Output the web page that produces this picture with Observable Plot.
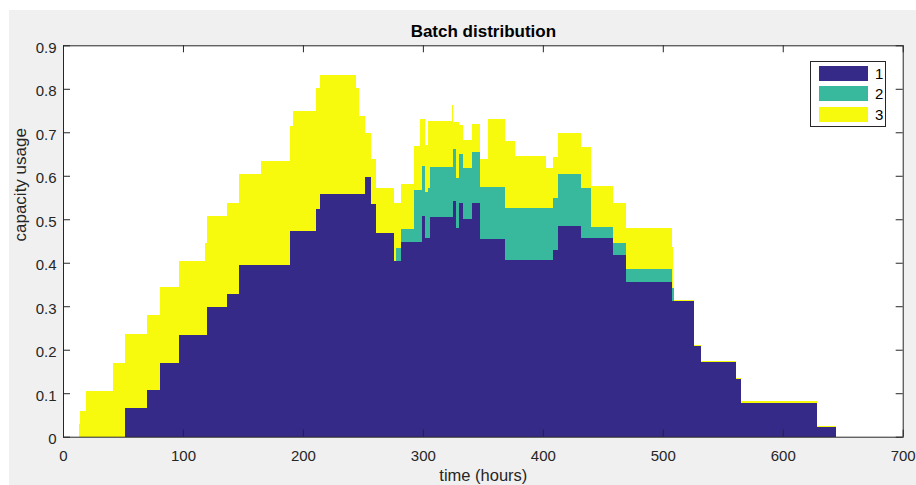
<!DOCTYPE html>
<html>
<head>
<meta charset="utf-8">
<script src="https://cdn.jsdelivr.net/npm/d3@7"></script>
<script src="https://cdn.jsdelivr.net/npm/@observablehq/plot@0.6"></script>
<style>
  html, body { margin: 0; padding: 0; background: #ffffff; width: 916px; height: 485px; overflow: hidden;
    font-family: "Liberation Sans", Arial, Helvetica, sans-serif; }
  #wrap { position: absolute; left: 9px; top: 10px; width: 907px; height: 475px; background: #f0f0f0; }
  #wrap svg { display: block; }
  #legend { position: absolute; left: 810px; top: 61px; width: 76px; height: 66px; background: #fff;
    border: 1px solid #262626; box-sizing: border-box; }
  .lg-row { position: absolute; left: 8px; height: 15px; width: 70px; }
  .lg-sw { position: absolute; left: 0; top: 0; width: 49px; height: 15px; }
  .lg-tx { position: absolute; left: 56px; top: -1px; font-size: 15px; line-height: 17px; color: #000; }
</style>
</head>
<body>
<div id="wrap"></div>
<div id="legend"></div>
<script>
// ---- data ----
const seriesNames = ["1", "2", "3"];
const seriesColors = ["#352a87", "#38b99e", "#f8fa0d"];

// start time of each step (hours); last entry closes the chart
const times = [13, 14.5, 19.5, 41.5, 52, 70, 81, 97, 118.5, 120.3, 137, 147, 165, 189, 192, 211, 214.5, 244.5, 247, 252,
  257, 261.3, 276.3, 277.5, 281.5, 292.5, 297.8, 299.2, 301.5, 304.5, 306, 324, 325.3, 327.8, 329.8, 333.4, 341.3, 348, 354.2, 368.3,
  376.6, 402.7, 408.5, 413, 431.6, 440.5, 458.5, 469.6, 507.4, 508.3, 509.5, 526, 532, 561, 565, 628.3, 644.4];

// batch 1 (bottom)
const batch1 = [0, 0, 0, 0, 0.065, 0.107, 0.170, 0.234, 0.234, 0.298, 0.328, 0.394, 0.394, 0.474, 0.474, 0.523, 0.557, 0.557, 0.557, 0.597,
  0.536, 0.469, 0.405, 0.405, 0.447, 0.447, 0.447, 0.507, 0.456, 0.456, 0.506, 0.506, 0.542, 0.479, 0.538, 0.500, 0.538, 0.455, 0.455, 0.406,
  0.406, 0.406, 0.430, 0.485, 0.456, 0.456, 0.417, 0.355, 0.311, 0.311, 0.311, 0.209, 0.172, 0.133, 0.078, 0.022, 0];

// batch 2 (middle)
const batch2 = [0, 0, 0, 0, 0, 0, 0, 0, 0, 0, 0, 0, 0, 0, 0, 0, 0, 0, 0, 0,
  0, 0, 0, 0.028, 0.030, 0.120, 0.120, 0.115, 0.106, 0.115, 0.115, 0.115, 0.119, 0.115, 0.111, 0.119, 0.117, 0.119, 0.119, 0.119,
  0.119, 0.119, 0.118, 0.120, 0.115, 0.027, 0.028, 0.031, 0.032, 0.032, 0, 0, 0, 0, 0, 0, 0];

// batch 3 (top)
const batch3 = [0.029, 0.060, 0.106, 0.170, 0.171, 0.173, 0.175, 0.171, 0.211, 0.210, 0.210, 0.210, 0.240, 0.241, 0.275, 0.278, 0.274, 0.244, 0.180, 0.102,
  0.102, 0.102, 0.133, 0.105, 0.104, 0.101, 0.163, 0.108, 0.108, 0.156, 0.106, 0.141, 0.062, 0.129, 0.068, 0.063, 0.065, 0.064, 0.156, 0.155,
  0.121, 0.093, 0.095, 0.094, 0.094, 0.094, 0.093, 0.094, 0.093, 0, 0.003, 0.003, 0.003, 0.003, 0.003, 0.003, 0];

const xTicks = [0, 100, 200, 300, 400, 500, 600, 700];
const yTicks = [0, 0.1, 0.2, 0.3, 0.4, 0.5, 0.6, 0.7, 0.8, 0.9];
const yTickLabels = ["0", "0.1", "0.2", "0.3", "0.4", "0.5", "0.6", "0.7", "0.8", "0.9"];
const titleText = "Batch distribution";
const xLabel = "time (hours)";
const yLabel = "capacity usage";

// ---- build long table ----
const rows = [];
[batch1, batch2, batch3].forEach((arr, k) =>
  arr.forEach((v, i) => rows.push({t: times[i], v, series: seriesNames[k]})));

const W = 907, H = 475, mL = 54, mR = 13.3, mT = 35.3, mB = 48.3;
const iw = W - mL - mR, ih = H - mT - mB;
const axisColor = "#262626";
const font = "'Liberation Sans', Arial, Helvetica, sans-serif";

const chart = Plot.plot({
  width: W, height: H,
  marginLeft: mL, marginRight: mR, marginTop: mT, marginBottom: mB,
  style: {background: "transparent", fontFamily: font, color: axisColor, overflow: "visible"},
  x: {domain: [0, 700]},
  y: {domain: [0, 0.9]},
  color: {domain: seriesNames, range: seriesColors},
  marks: [
    Plot.frame({fill: "white", stroke: null}),
    Plot.areaY(rows, {x: "t", y: "v", fill: "series", curve: "step-after", shapeRendering: "crispEdges"}),
    Plot.frame({stroke: axisColor, strokeWidth: 1}),
    Plot.tickX(xTicks, {x: d => d, insetTop: ih - 7, stroke: axisColor}),
    Plot.tickX(xTicks, {x: d => d, insetBottom: ih - 7, stroke: axisColor}),
    Plot.tickY(yTicks, {y: d => d, insetLeft: iw - 7, stroke: axisColor}),
    Plot.tickY(yTicks, {y: d => d, insetRight: iw - 7, stroke: axisColor}),
    Plot.axisX({ticks: xTicks, tickSize: 0, tickPadding: 13, fontSize: 15, label: null,
      tickFormat: d => String(d), fill: axisColor}),
    Plot.axisY({ticks: yTicks, tickSize: 0, tickPadding: 7, fontSize: 15, label: null, dy: 2,
      tickFormat: d => { const i = yTicks.indexOf(d); return i >= 0 ? yTickLabels[i] : String(d); }, fill: axisColor}),
    Plot.text([titleText], {text: d => d, frameAnchor: "top", lineAnchor: "top", dy: -21.3,
      fontSize: 17, fontWeight: "bold", fill: "#000"}),
    Plot.text([xLabel], {text: d => d, frameAnchor: "bottom", lineAnchor: "top", dy: 32,
      fontSize: 16.5, fill: axisColor}),
    Plot.text([yLabel], {text: d => d, frameAnchor: "left", rotate: -90, dx: -43,
      fontSize: 17, fill: axisColor})
  ]
});
document.getElementById("wrap").appendChild(chart);

// ---- legend ----
const legend = document.getElementById("legend");
seriesNames.forEach((name, k) => {
  const row = document.createElement("div");
  row.className = "lg-row";
  row.style.top = (4 + k * 20.3) + "px";
  const sw = document.createElement("div");
  sw.className = "lg-sw";
  sw.style.background = seriesColors[k];
  const tx = document.createElement("div");
  tx.className = "lg-tx";
  tx.textContent = name;
  row.appendChild(sw); row.appendChild(tx);
  legend.appendChild(row);
});
</script>
</body>
</html>
